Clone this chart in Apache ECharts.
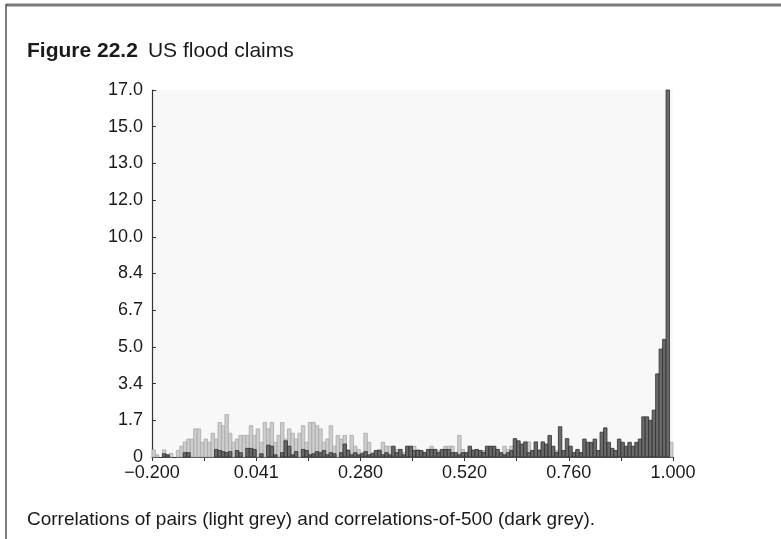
<!DOCTYPE html>
<html>
<head>
<meta charset="utf-8">
<script src="https://cdn.jsdelivr.net/npm/echarts@6/dist/echarts.min.js"></script>
<style>
  html, body { margin: 0; padding: 0; background: #ffffff; }
  #chart { width: 781px; height: 539px; }
</style>
</head>
<body>
<div id="chart"></div>
<script>
// Histogram bins: lower edge of the first bin and the common bin width
const binStart = -0.2;
const binWidth = 0.008;

// Correlations of pairs (light grey), one value per bin
const pairCorr = [
  0.33, 0.1, 0, 0.33, 0.1, 0.17, 0, 0.3, 0.5, 0.7,
  0.83, 0.83, 1.3, 1.3, 0.68, 0.83, 0.68, 1.1, 0.83, 1.6,
  1.45, 1.97, 1.1, 0.68, 0.83, 1.0, 1.0, 1.0, 1.45, 1.0,
  1.3, 0.68, 1.6, 1.3, 1.6, 0.68, 1.0, 1.6, 0.83, 1.3,
  1.1, 0.83, 1.1, 1.45, 0.68, 1.6, 1.6, 1.45, 1.3, 0.68,
  0.83, 1.45, 0.5, 1.0, 0.83, 1.0, 0.35, 1.0, 0.5, 0.35,
  0.2, 1.1, 0.68, 0.2, 0.3, 0.35, 0.68, 0.5, 0.5, 0.2,
  0.35, 0.35, 0.2, 0.35, 0.35, 0.5, 0.35, 0.3, 0.2, 0.3,
  0.5, 0.35, 0.3, 0.3, 0.5, 0.5, 0.5, 0.2, 1.0, 0.35,
  0.2, 0.3, 0.35, 0.3, 0.2, 0.3, 0.35, 0.2, 0.35, 0.35,
  0.2, 0.5, 0.35, 0.5, 0.2, 0.3, 0.2, 0.35, 0.7, 0.3,
  0.2, 0.35, 0.2, 0.2, 0.3, 0.2, 0.3, 0.2, 0.2, 0.3,
  0.2, 0.2, 0.3, 0.2, 0.2, 0.3, 0.2, 0.2, 0.2, 0.3,
  0.2, 0.2, 0.3, 0.2, 0.2, 0.2, 0.2, 0.2, 0.2, 0.2,
  0.2, 0.2, 0.2, 0.2, 0.2, 0.2, 0.2, 0.2, 0.2, 0.68
];

// Correlations-of-500 (dark grey), one value per bin
const corrOf500 = [
  0, 0, 0, 0.15, 0.1, 0, 0, 0, 0, 0.2,
  0.2, 0, 0, 0, 0, 0, 0, 0, 0.35, 0.3,
  0.25, 0.2, 0.25, 0, 0.3, 0.2, 0, 0.4, 0.4, 0.35,
  0, 0.15, 0, 0.55, 0.5, 0.1, 0, 0.2, 0.75, 0.5,
  0.1, 0.25, 0, 0.35, 0.3, 0.1, 0.15, 0.25, 0.2, 0.3,
  0.1, 0.2, 0.15, 0, 0.2, 0.6, 0.3, 0.1, 0.2, 0.1,
  0.15, 0.25, 0.1, 0.15, 0.3, 0.3, 0.1, 0.2, 0.1, 0.5,
  0.2, 0.35, 0.1, 0.5, 0.5, 0.3, 0.3, 0.3, 0.2, 0.35,
  0.35, 0.35, 0.2, 0.35, 0.35, 0.35, 0.2, 0.2, 0.1, 0.2,
  0.2, 0.5, 0.3, 0.35, 0.3, 0.2, 0.5, 0.5, 0.5, 0.35,
  0.2, 0.1, 0.2, 0.3, 0.85, 0.75, 0.6, 0.7, 0.2, 0.3,
  0.7, 0.3, 0.7, 0.6, 1.0, 0.5, 0.2, 1.4, 0.3, 0.85,
  0.5, 0.2, 0.35, 0.2, 0.83, 0.68, 0.68, 0.83, 0.3, 1.15,
  1.35, 0.68, 0.4, 0.3, 0.83, 0.68, 0.5, 0.68, 0.5, 0.68,
  0.83, 1.86, 1.86, 1.7, 2.17, 3.85, 5.0, 5.45, 17.0, 0
];

// Axis tick labels
const xTickLabels = ['\u22120.200', '', '0.041', '', '0.280', '', '0.520', '', '0.760', '', '1.000'];
const yTickLabels = ['0', '1.7', '3.4', '5.0', '6.7', '8.4', '10.0', '12.0', '13.0', '15.0', '17.0'];

const binCount = pairCorr.length;
const binsPerTick = Math.round(0.12 / binWidth); // one x tick every 0.12
const yStep = 1.7;
const font = '"Liberation Sans", Arial, Helvetica, sans-serif';

const chart = echarts.init(document.getElementById('chart'), null, { renderer: 'canvas' });

function histRenderer(fill, stroke) {
  return function (params, api) {
    const i = api.value(0);
    const v = api.value(1);
    if (!v) return null;
    const base = api.coord([i, 0]);
    const top = api.coord([i + 1, v]);
    return {
      type: 'rect',
      shape: { x: base[0], y: top[1], width: top[0] - base[0], height: base[1] - top[1] },
      style: { fill: fill, stroke: stroke, lineWidth: 0.8 }
    };
  };
}

chart.setOption({
  animation: false,
  backgroundColor: '#ffffff',
  title: [
    {
      left: 22, top: 36,
      text: '{b|Figure 22.2}  {n|US flood claims}',
      textStyle: {
        rich: {
          b: { fontFamily: font, fontSize: 21, fontWeight: 'bold', color: '#1a1a1a' },
          n: { fontFamily: font, fontSize: 21, fontWeight: 'normal', color: '#1a1a1a' }
        }
      }
    },
    {
      left: 22, top: 505,
      text: 'Correlations of pairs (light grey) and correlations-of-500 (dark grey).',
      textStyle: { fontFamily: font, fontSize: 19, fontWeight: 'normal', color: '#1a1a1a' }
    }
  ],
  graphic: [
    { type: 'line', shape: { x1: 6, y1: 5, x2: 781, y2: 5 }, style: { stroke: '#7a7a7a', lineWidth: 3 } },
    { type: 'line', shape: { x1: 6, y1: 4, x2: 6, y2: 539 }, style: { stroke: '#555555', lineWidth: 1.5 } }
  ],
  grid: {
    left: 152, right: 108, top: 90, bottom: 82,
    show: true, backgroundColor: '#f8f8f8', borderWidth: 0
  },
  xAxis: {
    type: 'value', min: 0, max: binCount, interval: binsPerTick,
    splitLine: { show: false },
    axisLine: { show: true, onZero: false, lineStyle: { color: '#333333', width: 1.2 } },
    axisTick: { show: true, inside: false, length: 4, lineStyle: { color: '#333333' } },
    axisLabel: {
      fontFamily: font, fontSize: 18, color: '#1a1a1a', margin: 7,
      formatter: function (v) { return xTickLabels[Math.round(v / binsPerTick)] || ''; }
    }
  },
  yAxis: {
    type: 'value', min: 0, max: 17, interval: yStep,
    splitLine: { show: false },
    axisLine: { show: true, lineStyle: { color: '#333333', width: 1.2 } },
    axisTick: { show: true, inside: true, length: 4, lineStyle: { color: '#333333' } },
    axisLabel: {
      fontFamily: font, fontSize: 18, color: '#1a1a1a', margin: 9,
      formatter: function (v) { return yTickLabels[Math.round(v / yStep)]; }
    }
  },
  series: [
    {
      name: 'pairs', type: 'custom',
      renderItem: histRenderer('#cdcdcd', '#a8a8a8'),
      encode: { x: 0, y: 1 },
      data: pairCorr.map(function (v, i) { return [i, v]; }),
      z: 2
    },
    {
      name: 'of500', type: 'custom',
      renderItem: histRenderer('#6a6a6a', '#2e2e2e'),
      encode: { x: 0, y: 1 },
      data: corrOf500.map(function (v, i) { return [i, v]; }),
      z: 3
    }
  ]
});
</script>
</body>
</html>
